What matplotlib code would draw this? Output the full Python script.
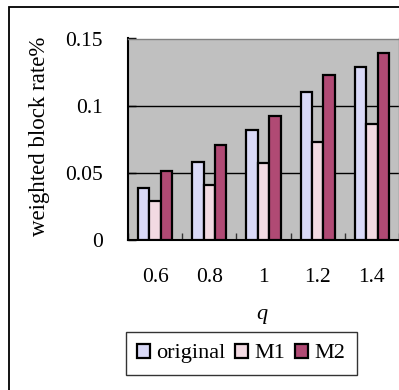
import matplotlib
matplotlib.use("Agg")
import matplotlib.pyplot as plt
import numpy as np
from matplotlib.patches import Rectangle

categories = ["0.6", "0.8", "1", "1.2", "1.4"]
original = [0.039, 0.058, 0.082, 0.110, 0.129]
m1 = [0.029, 0.041, 0.057, 0.073, 0.086]
m2 = [0.051, 0.071, 0.092, 0.123, 0.139]
series_names = ["original", "M1", "M2"]
yticks = [0, 0.05, 0.1, 0.15]
ytick_labels = ["0", "0.05", "0.1", "0.15"]

plt.rcParams['font.family'] = ['Liberation Serif', 'DejaVu Serif']

fig = plt.figure(figsize=(3.99, 3.90), dpi=100)
# outer chart frame
fig.patches.append(Rectangle((8.5/399, -0.1), 1.2, 1 - 6.5/390 + 0.1, transform=fig.transFigure,
                             fill=False, edgecolor='black', linewidth=1.3))

ax = fig.add_axes([128/399, 1 - 240/390, 1 - 128/399, (240 - 38.5)/390])
ax.set_facecolor('#c0c0c0')

x = np.arange(len(categories))
w = 0.21
colors = ['#d9d9f7', '#f2dae2', '#b04a74']
for i, (vals, c) in enumerate(zip([original, m1, m2], colors)):
    ax.bar(x + (i - 1) * w, vals, width=w, color=c, edgecolor='black', linewidth=1.6,
           label=series_names[i], zorder=3)

ax.set_xlim(-0.5, len(categories) - 0.5)
ax.set_ylim(0, 0.15)
ax.set_yticks(yticks)
ax.set_yticklabels(ytick_labels)
ax.set_xticks(x)
ax.set_xticklabels(categories)
ax.set_xticks(np.arange(len(categories) + 1) - 0.5, minor=True)
ax.tick_params(axis='x', which='major', length=0, pad=20, labelsize=15.5)
ax.tick_params(axis='x', which='minor', direction='in', length=5, width=1, color='#333333')
ax.tick_params(axis='y', which='major', direction='in', length=6, width=1, pad=18, labelsize=15.5)

for yv in [0.05, 0.1]:
    ax.axhline(yv, color='black', linewidth=1, zorder=1)

for s in ['top', 'right']:
    ax.spines[s].set_color('#808080')
    ax.spines[s].set_linewidth(1)
for s in ['left', 'bottom']:
    ax.spines[s].set_color('black')
    ax.spines[s].set_linewidth(1.5)

fig.text(40/399, 1 - 136/390, "weighted block rate%", rotation=90, ha='center', va='center', fontsize=16.5)
fig.text(262/399, 1 - 315/390, "q", style='italic', ha='center', va='center', fontsize=16)

leg = fig.legend(loc='center', bbox_to_anchor=(241/399, 1 - 353.5/390), ncol=3, fontsize=16,
                 frameon=True, fancybox=False, handlelength=0.6, handleheight=0.6,
                 handletextpad=0.3, columnspacing=0.4, borderpad=0.5, borderaxespad=0)
leg.get_frame().set_edgecolor('black')
leg.get_frame().set_linewidth(1)

fig.savefig("out.png", dpi=100)
